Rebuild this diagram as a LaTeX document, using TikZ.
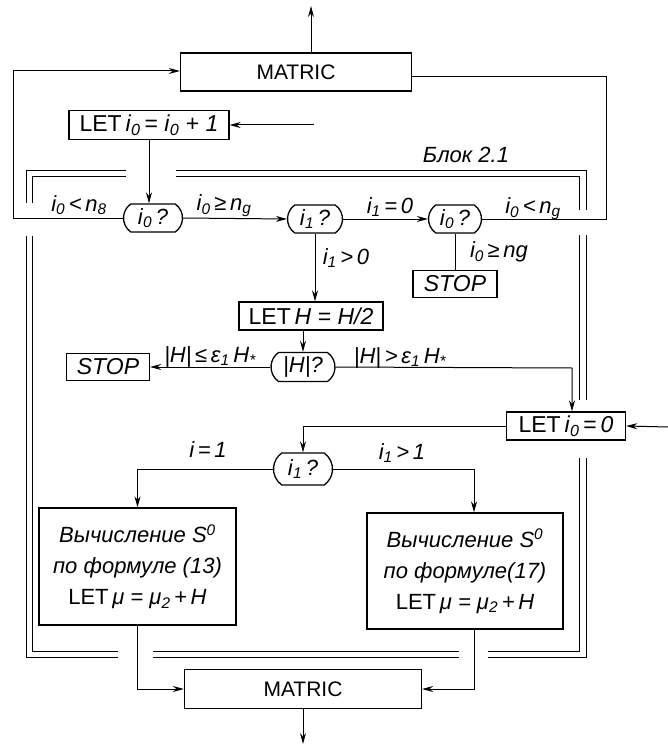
\documentclass[tikz,border=0pt]{standalone}
\usepackage{fontspec}
\setmainfont{Liberation Sans}
\usetikzlibrary{arrows.meta,shapes.misc}
\newcommand\ix[2]{\textit{#1}\textsubscript{\textit{#2}}}
\begin{document}
\begin{tikzpicture}[x=1pt,y=-1pt,
  every node/.style={font=\fontsize{23}{31}\selectfont, inner sep=0pt},
  boxnode/.style={draw, line width=1.3pt, rectangle, align=center},
  matricnode/.style={boxnode, font=\fontsize{21}{25}\selectfont},
  calcnode/.style={boxnode, font=\fontsize{22}{31}\selectfont},
  decnode/.style={draw, line width=1.3pt, rounded rectangle, rounded rectangle arc length=110, minimum height=28pt, font=\fontsize{22}{25}\selectfont},
  conn/.style={line width=1pt},
  arr/.style={conn, -{Stealth[length=11pt,width=6pt]}},
  frameline/.style={line width=1pt},
  lbl/.style={font=\fontsize{22}{24}\selectfont\itshape}
]
\useasboundingbox (0,0) rectangle (668,746);

% nodes
\node[matricnode, minimum width=231pt, minimum height=38pt] (m1) at (296,72) {MATRIC};
\node[boxnode, minimum width=160pt, minimum height=29pt] (l1) at (149,125) {LET\,\ix{i}{0}\,=\;\ix{i}{0}\;+\;\textit{1}};
\node[decnode, minimum width=59pt] (d1) at (153,218) {\ix{i}{0}\,\textit{?}};
\node[decnode, minimum width=55pt] (d2) at (315,219) {\ix{i}{1}\,\textit{?}};
\node[decnode, minimum width=53pt] (d3) at (455,219) {\ix{i}{0}\,\textit{?}};
\node[boxnode, minimum width=84pt, minimum height=27pt] (s1) at (455,284) {\textit{STOP}};
\node[boxnode, minimum width=144pt, minimum height=28pt] (lh) at (311,316) {LET\,\textit{H\;=\;H/2}};
\node[decnode, minimum width=64pt, minimum height=29pt] (hq) at (303,367) {\textit{|H|?}};
\node[boxnode, minimum width=83pt, minimum height=27pt] (s2) at (108,367) {\textit{STOP}};
\node[boxnode, minimum width=119pt, minimum height=28pt] (l0) at (566,426) {LET\,\ix{i}{0}\,=\,\textit{0}};
\node[decnode, minimum width=59pt, minimum height=32pt] (d4) at (303,469) {\ix{i}{1}\,\textit{?}};
\node[calcnode, minimum width=197pt, minimum height=117pt] (c1) at (137.5,566.5)
  {\textit{Вычисление S\textsuperscript{0}}\\ \textit{по формуле (13)}\\ LET\,\textit{μ\;=\;μ\textsubscript{2}\,+\,H}};
\node[calcnode, minimum width=196pt, minimum height=116pt] (c2) at (465,571)
  {\textit{Вычисление S\textsuperscript{0}}\\ \textit{по формуле(17)}\\ LET\,\textit{μ\;=\;μ\textsubscript{2}\,+\,H}};
\node[matricnode, minimum width=237pt, minimum height=39pt] (m2) at (303,689) {MATRIC};

% labels
\node[lbl] (t1) at (79,205) {\ix{i}{0}\,<\,\ix{n}{8}};
\node[lbl] (t2) at (224,206) {\ix{i}{0}\,≥\,\ix{n}{g}};
\node[lbl] (t3) at (390,207) {\ix{i}{1}\,=\,0};
\node[lbl] (t4) at (533,209) {\ix{i}{0}\,<\,\ix{n}{g}};
\node[lbl] (t5) at (346,258) {\ix{i}{1}\,>\,0};
\node[lbl] (t6) at (499,252) {\ix{i}{0}\,≥\,ng};
\node[lbl] (t7) at (210,357) {|H|\,≤\,ε\textsubscript{1}\,H\textsubscript{*}};
\node[lbl] (t8) at (400,358) {|H|\,>\,ε\textsubscript{1}\,H\textsubscript{*}};
\node[lbl] (t9) at (208,450) {i\,=\,1};
\node[lbl] (t10) at (402,453) {\ix{i}{1}\,>\,1};
\node[lbl] (blk) at (466,155) {Блок 2.1};

% free ends
\coordinate (topout) at (311,6);
\coordinate (in1) at (314,125);
\coordinate (L1) at (13,218);
\coordinate (R1) at (606,219);
\coordinate (R2) at (572,368);
\coordinate (in2) at (668,427);
\coordinate (botout) at (303,744);

% connectors
\draw[arr] (m1.north -| topout) -- (topout);
\draw[arr] (d1.west) -- (L1) |- ([yshift=1pt]m1.west);
\draw[conn] ([yshift=-5pt]m1.east) -| (R1) -- (d3.east);
\draw[arr] (in1) -- (l1.east);
\draw[arr] (l1.south) -- (l1.south |- d1.north);
\draw[arr] (d1.east) -- (d2.west);
\draw[arr] (d2.east) -- (d3.west);
\draw[conn] (d3.south) -- (d3.south |- s1.north);
\draw[arr] (d2.south) -- (d2.south |- lh.north);
\draw[arr] (lh.south -| hq.north) -- (hq.north);
\draw[arr] (hq.west) -- (s2.east);
\draw[arr] (hq.east) -- (R2) -- (R2 |- l0.north);
\draw[arr] (in2) -- (l0.east);
\draw[arr] (l0.west) -| (d4.north);
\draw[arr] (d4.west) -| (c1.north);
\draw[arr] (d4.east) -| ([xshift=9pt]c2.north);
\draw[arr] (c1.south) |- (m2.west);
\draw[arr] ([xshift=9pt]c2.south) |- (m2.east);
\draw[arr] (m2.south) -- (botout);

% double frame (Блок 2.1)
\draw[frameline] (126,171) -- (26,171) -- (26,203);
\draw[frameline] (26,236) -- (26,657) -- (118,657);
\draw[frameline] (153,657) -- (459,657);
\draw[frameline] (488,657) -- (586,657) -- (586,458);
\draw[frameline] (586,400) -- (586,235);
\draw[frameline] (586,210) -- (586,171) -- (176,171);
\draw[frameline] (126,177) -- (32,177) -- (32,203);
\draw[frameline] (32,236) -- (32,651) -- (118,651);
\draw[frameline] (153,651) -- (459,651);
\draw[frameline] (488,651) -- (579,651) -- (579,458);
\draw[frameline] (579,400) -- (579,235);
\draw[frameline] (579,210) -- (579,177) -- (176,177);
\end{tikzpicture}
\end{document}
